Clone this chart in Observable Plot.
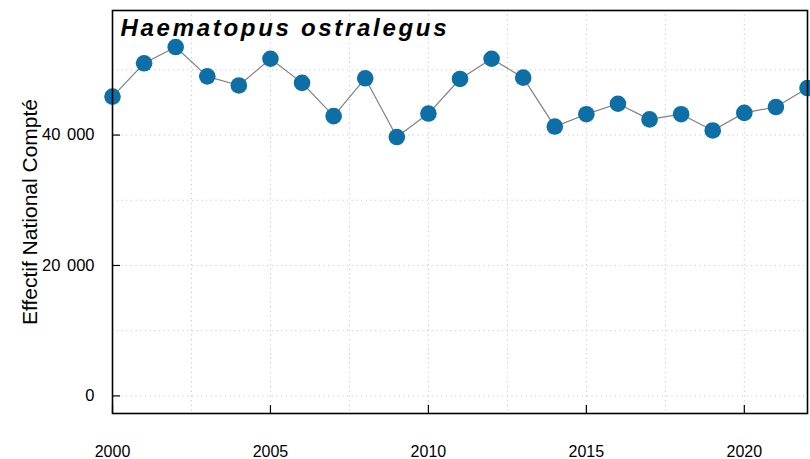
<!DOCTYPE html>
<html>
<head>
<meta charset="utf-8">
<script src="https://cdn.jsdelivr.net/npm/d3@7"></script>
<script src="https://cdn.jsdelivr.net/npm/@observablehq/plot@0.6"></script>
<style>
  html, body { margin: 0; padding: 0; background: #fff; }
  svg { display: block; }
</style>
</head>
<body>
<div id="chart"></div>
<script>
const years = [2000,2001,2002,2003,2004,2005,2006,2007,2008,2009,2010,2011,2012,2013,2014,2015,2016,2017,2018,2019,2020,2021,2022];
const counts = [45900,51000,53500,49000,47600,51700,48000,42900,48700,39700,43300,48600,51700,48800,41300,43200,44800,42400,43200,40700,43400,44300,47200];
const xTicks = [2000,2005,2010,2015,2020];
const yTicks = [0,20000,40000];
const xGrid = [2002.5,2005,2007.5,2010,2012.5,2015,2017.5,2020];
const yGrid = [0,10000,20000,30000,40000,50000];
const speciesTitle = "Haematopus ostralegus";
const yLabel = "Effectif National Compté";

const data = years.map((y, i) => ({year: y, count: counts[i]}));

const W = 810, H = 459;
const mL = 112, mR = 3, mT = 10, mB = 46;
const innerH = H - mT - mB, innerW = W - mL - mR;
const tickLen = 8;

const chart = Plot.plot({
  width: W,
  height: H,
  marginLeft: mL,
  marginRight: mR,
  marginTop: mT,
  marginBottom: mB,
  style: {fontFamily: "'Liberation Sans', Arial, sans-serif", fontSize: "16px", color: "#000", background: "#fff"},
  x: {domain: [2000, 2022]},
  y: {domain: [-2700, 59100]},
  marks: [
    Plot.ruleX(xGrid, {stroke: "#c8c8c8", strokeDasharray: "1.2,3.5", strokeWidth: 1}),
    Plot.ruleY(yGrid, {stroke: "#c8c8c8", strokeDasharray: "1.2,3.5", strokeWidth: 1}),
    Plot.ruleX(xTicks, {insetTop: innerH - tickLen, stroke: "#000", strokeWidth: 1.2}),
    Plot.ruleY(yTicks, {insetRight: innerW - tickLen, stroke: "#000", strokeWidth: 1.2}),
    Plot.axisX({ticks: xTicks, tickSize: 0, tickPadding: 32, tickFormat: d => String(d), label: null, fontSize: 16}),
    Plot.axisY({ticks: yTicks, tickSize: 0, tickPadding: 18, tickFormat: d => d3.format(",")(d).replace(/,/g, "\u2009\u2009"), label: null, fontSize: 16.5}),
    Plot.text([yLabel], {frameAnchor: "left", rotate: -90, dx: -82, textAnchor: "middle", lineAnchor: "middle", fontSize: 21, fill: "#000"}),
    Plot.line(data, {x: "year", y: "count", stroke: "#808080", strokeWidth: 1.2}),
    Plot.dot(data, {x: "year", y: "count", r: 8.3, fill: "#0e6fa7", stroke: "none"}),
    Plot.frame({stroke: "#000", strokeWidth: 1.6}),
    Plot.text([speciesTitle], {frameAnchor: "top-left", dx: 8, dy: 8, lineAnchor: "top", textAnchor: "start", fontSize: 24, fontWeight: "bold", fontStyle: "italic", fill: "#000"})
  ]
});

d3.select(chart).selectAll("text")
  .filter(function() { return this.textContent === speciesTitle; })
  .attr("letter-spacing", "2.7px");

document.getElementById("chart").appendChild(chart);
</script>
</body>
</html>
